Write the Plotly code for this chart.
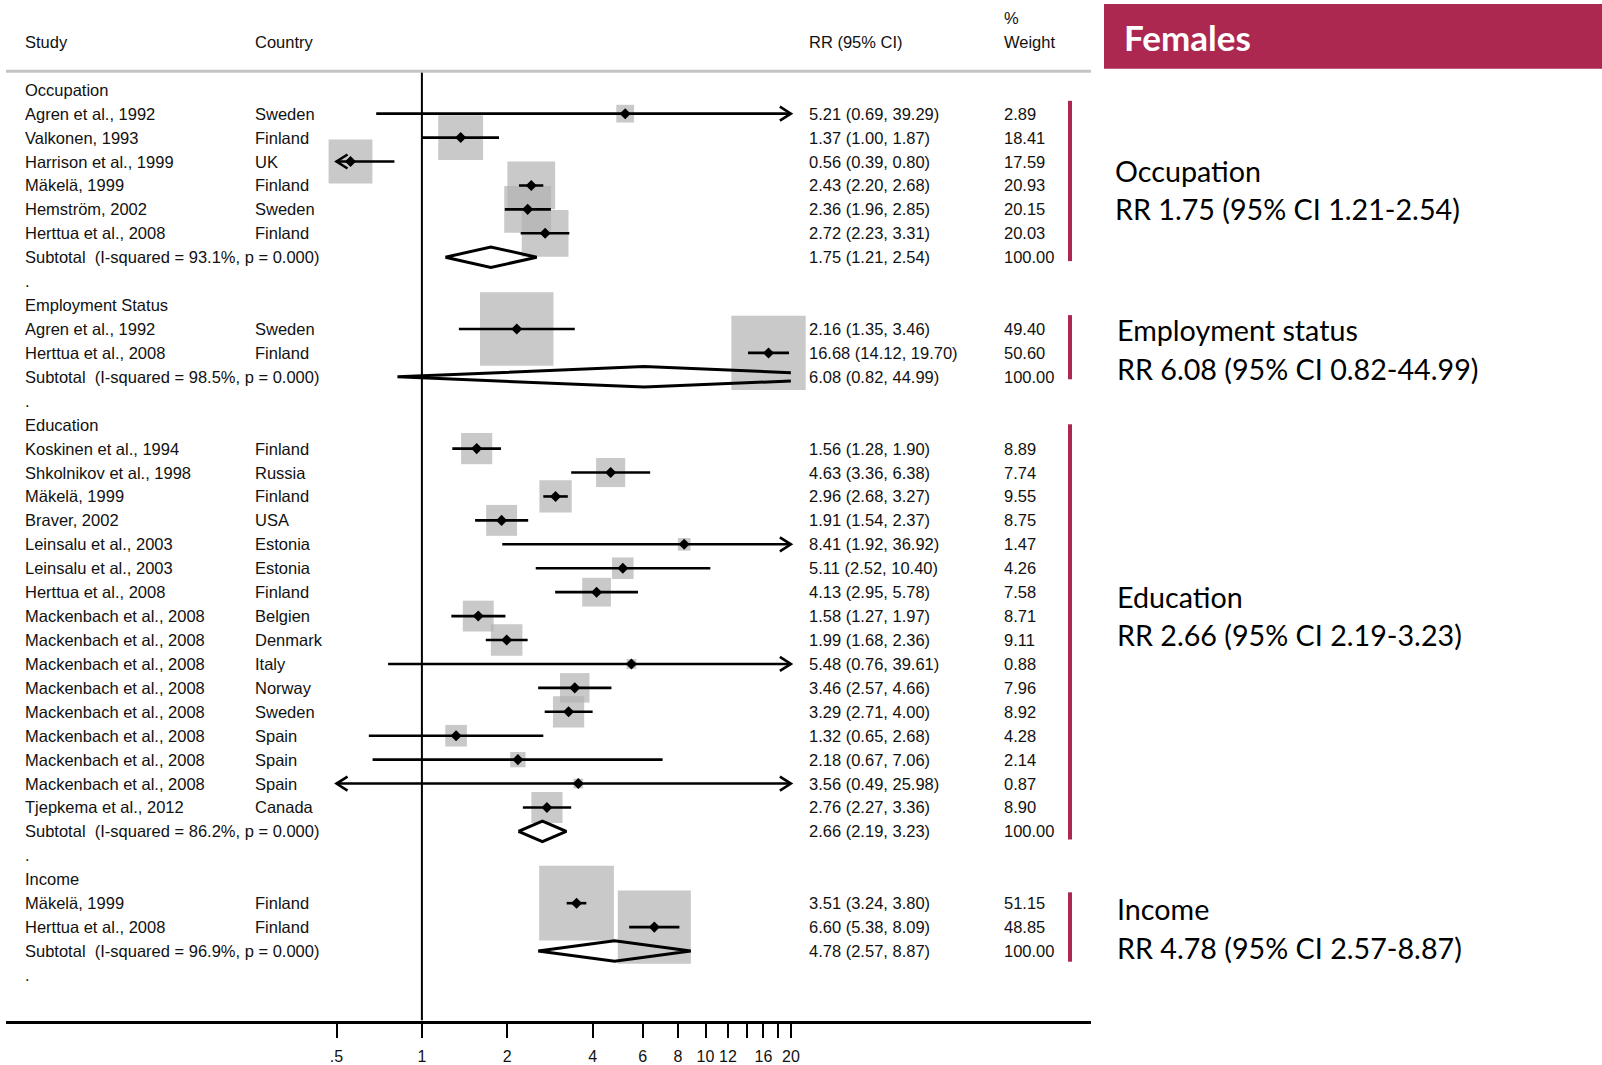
import math
import plotly.graph_objects as go

# ---------------- data ----------------
occ_study = ["Agren et al., 1992", "Valkonen, 1993", "Harrison et al., 1999", "Mäkelä, 1999",
             "Hemström, 2002", "Herttua et al., 2008"]
occ_country = ["Sweden", "Finland", "UK", "Finland", "Sweden", "Finland"]
occ_rr = [5.21, 1.37, 0.56, 2.43, 2.36, 2.72]
occ_lo = [0.69, 1.00, 0.39, 2.20, 1.96, 2.23]
occ_hi = [39.29, 1.87, 0.80, 2.68, 2.85, 3.31]
occ_w = [2.89, 18.41, 17.59, 20.93, 20.15, 20.03]

emp_study = ["Agren et al., 1992", "Herttua et al., 2008"]
emp_country = ["Sweden", "Finland"]
emp_rr = [2.16, 16.68]
emp_lo = [1.35, 14.12]
emp_hi = [3.46, 19.70]
emp_w = [49.40, 50.60]

edu_study = ["Koskinen et al., 1994", "Shkolnikov et al., 1998", "Mäkelä, 1999", "Braver, 2002",
             "Leinsalu et al., 2003", "Leinsalu et al., 2003", "Herttua et al., 2008",
             "Mackenbach et al., 2008", "Mackenbach et al., 2008", "Mackenbach et al., 2008",
             "Mackenbach et al., 2008", "Mackenbach et al., 2008", "Mackenbach et al., 2008",
             "Mackenbach et al., 2008", "Mackenbach et al., 2008", "Tjepkema et al., 2012"]
edu_country = ["Finland", "Russia", "Finland", "USA", "Estonia", "Estonia", "Finland", "Belgien",
               "Denmark", "Italy", "Norway", "Sweden", "Spain", "Spain", "Spain", "Canada"]
edu_rr = [1.56, 4.63, 2.96, 1.91, 8.41, 5.11, 4.13, 1.58, 1.99, 5.48, 3.46, 3.29, 1.32, 2.18, 3.56, 2.76]
edu_lo = [1.28, 3.36, 2.68, 1.54, 1.92, 2.52, 2.95, 1.27, 1.68, 0.76, 2.57, 2.71, 0.65, 0.67, 0.49, 2.27]
edu_hi = [1.90, 6.38, 3.27, 2.37, 36.92, 10.40, 5.78, 1.97, 2.36, 39.61, 4.66, 4.00, 2.68, 7.06, 25.98, 3.36]
edu_w = [8.89, 7.74, 9.55, 8.75, 1.47, 4.26, 7.58, 8.71, 9.11, 0.88, 7.96, 8.92, 4.28, 2.14, 0.87, 8.90]

inc_study = ["Mäkelä, 1999", "Herttua et al., 2008"]
inc_country = ["Finland", "Finland"]
inc_rr = [3.51, 6.60]
inc_lo = [3.24, 5.38]
inc_hi = [3.80, 8.09]
inc_w = [51.15, 48.85]

group_names = ["Occupation", "Employment Status", "Education", "Income"]
panel_names = ["Occupation", "Employment status", "Education", "Income"]
sub_rr = [1.75, 6.08, 2.66, 4.78]
sub_lo = [1.21, 0.82, 2.19, 2.57]
sub_hi = [2.54, 44.99, 3.23, 8.87]
sub_i2 = [93.1, 98.5, 86.2, 96.9]
sub_p = [0.000, 0.000, 0.000, 0.000]

tick_vals = [0.5, 1, 2, 4, 6, 8, 10, 12, 14, 16, 18, 20]
tick_text = [".5", "1", "2", "4", "6", "8", "10", "12", "", "16", "", "20"]
panel_title = "Females"

# ---------------- layout helpers ----------------
W, H = 1602, 1065
XMIN, XMAX = 0.5, 20.0          # clipping range for CIs
PX_DEC = 283.6                  # px per decade
X1_PX = 421.9                   # pixel of RR = 1
AX_L, AX_R = 6, 1091
PLOT_TOP, PLOT_BOT = 71.5, 1022.5
ROW0, ROWH = 89.9, 23.97

def px_to_row(p):
    return (p - ROW0) / ROWH

def pxx(p):
    return p / W

def pxy(p):
    return 1 - p / H

lx_left = (AX_L - X1_PX) / PX_DEC
lx_right = (AX_R - X1_PX) / PX_DEC
CRIMSON = "#AD2851"
BOX = "#b2b2b2"
TXT = "#111111"
FONT = "Liberation Sans, Arial, sans-serif"
FS = 16.5
RFONT = "Lato, Open Sans, sans-serif"

groups = [
    (occ_study, occ_country, occ_rr, occ_lo, occ_hi, occ_w),
    (emp_study, emp_country, emp_rr, emp_lo, emp_hi, emp_w),
    (edu_study, edu_country, edu_rr, edu_lo, edu_hi, edu_w),
    (inc_study, inc_country, inc_rr, inc_lo, inc_hi, inc_w),
]

annotations = []
def add_text(x_px, row, text, y_px=None):
    annotations.append(dict(
        x=pxx(x_px - 2), xref="paper",
        y=row if y_px is None else pxy(y_px), yref="y" if y_px is None else "paper",
        text=text, showarrow=False, xanchor="left", yanchor="middle",
        font=dict(family=FONT, size=FS, color=TXT)))

COL_STUDY, COL_COUNTRY, COL_RR, COL_W = 24.5, 255.4, 809.2, 1004.3

# headers
add_text(COL_STUDY, None, "Study", y_px=42)
add_text(COL_COUNTRY, None, "Country", y_px=42)
add_text(COL_RR, None, "RR (95% CI)", y_px=42)
add_text(COL_W, None, "%", y_px=18.4)
add_text(COL_W, None, "Weight", y_px=42)

box_x, box_y, box_s = [], [], []
ci_x, ci_y = [], []
arr_x, arr_y = [], []
pt_x, pt_y = [], []
dia_x, dia_y = [], []

ARR_D = 10 ** (11 / PX_DEC)
ARR_H = 7 / ROWH
DIA_H = 10.3 / ROWH

def arrow(xtip, row, direction):
    xb = xtip / ARR_D if direction > 0 else xtip * ARR_D
    arr_x.extend([xb, xtip, xb, None])
    arr_y.extend([row - ARR_H, row, row + ARR_H, None])

row = 0
for gi, (st, co, rr, lo, hi, w) in enumerate(groups):
    add_text(COL_STUDY, row, group_names[gi])
    row += 1
    for k in range(len(st)):
        add_text(COL_STUDY, row, st[k])
        add_text(COL_COUNTRY, row, co[k])
        add_text(COL_RR, row, "%.2f (%.2f, %.2f)" % (rr[k], lo[k], hi[k]))
        add_text(COL_W, row, "%.2f" % w[k])
        box_x.append(rr[k]); box_y.append(row); box_s.append(10.45 * math.sqrt(w[k]))
        l = max(lo[k], XMIN); h = min(hi[k], XMAX)
        ci_x.extend([l, h, None]); ci_y.extend([row, row, None])
        if lo[k] < XMIN:
            arrow(XMIN, row, -1)
        if hi[k] > XMAX:
            arrow(XMAX, row, +1)
        pt_x.append(rr[k]); pt_y.append(row)
        row += 1
    add_text(COL_STUDY, row, "Subtotal  (I-squared = %.1f%%, p = %.3f)" % (sub_i2[gi], sub_p[gi]))
    add_text(COL_RR, row, "%.2f (%.2f, %.2f)" % (sub_rr[gi], sub_lo[gi], sub_hi[gi]))
    add_text(COL_W, row, "100.00")
    e, l, h = sub_rr[gi], sub_lo[gi], sub_hi[gi]
    if h > XMAX:
        t = (math.log10(XMAX) - math.log10(e)) / (math.log10(h) - math.log10(e))
        off = DIA_H * (1 - t)
        dia_x.extend([XMAX, e, l, e, XMAX, None])
        dia_y.extend([row - off, row - DIA_H, row, row + DIA_H, row + off, None])
    else:
        dia_x.extend([l, e, h, e, l, None])
        dia_y.extend([row, row - DIA_H, row, row + DIA_H, row, None])
    row += 1
    add_text(COL_STUDY, row, ".")
    row += 1

y_top = px_to_row(PLOT_TOP)
y_bot = px_to_row(PLOT_BOT)

fig = go.Figure()
fig.add_trace(go.Scatter(x=[1, 1], y=[y_top, y_bot], mode="lines",
                         line=dict(color="black", width=2), hoverinfo="skip"))
fig.add_trace(go.Scatter(x=box_x, y=box_y, mode="markers",
                         marker=dict(symbol="square", size=box_s, color=BOX, line=dict(width=0)),
                         hoverinfo="skip", cliponaxis=False))
fig.add_trace(go.Scatter(x=ci_x, y=ci_y, mode="lines", line=dict(color="black", width=2.6),
                         hoverinfo="skip"))
fig.add_trace(go.Scatter(x=arr_x, y=arr_y, mode="lines", line=dict(color="black", width=2.6),
                         hoverinfo="skip"))
fig.add_trace(go.Scatter(x=pt_x, y=pt_y, mode="markers",
                         marker=dict(symbol="diamond", size=8.5, color="black", line=dict(width=0)),
                         hoverinfo="skip"))
fig.add_trace(go.Scatter(x=dia_x, y=dia_y, mode="lines", line=dict(color="black", width=3),
                         hoverinfo="skip"))

shapes = []
shapes.append(dict(type="line", xref="paper", yref="paper", x0=pxx(AX_L), x1=pxx(AX_R),
                   y0=pxy(PLOT_TOP), y1=pxy(PLOT_TOP), line=dict(color="#c4c4c4", width=3)))
shapes.append(dict(type="rect", xref="paper", yref="paper", x0=pxx(1104), x1=1.0,
                   y0=pxy(69), y1=pxy(4), fillcolor=CRIMSON, line=dict(width=0)))
bar_px = [(101, 261.6), (315.7, 380), (425, 841), (894, 963.5)]
for (a, b) in bar_px:
    shapes.append(dict(type="line", xref="paper", yref="paper", x0=pxx(1070), x1=pxx(1070),
                       y0=pxy(a), y1=pxy(b), line=dict(color=CRIMSON, width=4)))

annotations.append(dict(x=pxx(1122), xref="paper", y=pxy(37.5), yref="paper",
                        text="<b>%s</b>" % panel_title, showarrow=False, xanchor="left",
                        yanchor="middle", font=dict(family=RFONT, size=35, color="white")))

panel_px = [(1113, 171.6, 209.5), (1115, 331, 370), (1115, 597.7, 636.5), (1115, 911, 950)]
for gi, (xp, y1p, y2p) in enumerate(panel_px):
    for txt, yp in [(panel_names[gi], y1p),
                    ("RR %.2f (95%% CI %.2f-%.2f)" % (sub_rr[gi], sub_lo[gi], sub_hi[gi]), y2p)]:
        annotations.append(dict(x=pxx(xp), xref="paper", y=pxy(yp), yref="paper", text=txt,
                                showarrow=False, xanchor="left", yanchor="middle",
                                font=dict(family=RFONT, size=28.7, color="black")))

fig.update_layout(
    width=W, height=H, margin=dict(l=0, r=0, t=0, b=0),
    paper_bgcolor="white", plot_bgcolor="white", showlegend=False,
    shapes=shapes, annotations=annotations,
    xaxis=dict(type="log", range=[lx_left, lx_right], domain=[pxx(AX_L), pxx(AX_R)],
               showline=True, linecolor="black", linewidth=2.5, ticks="outside", ticklen=15,
               tickwidth=2, tickcolor="black", tickvals=tick_vals, ticktext=tick_text,
               tickfont=dict(family=FONT, size=16, color=TXT), showgrid=False, zeroline=False,
               ticklabelstandoff=4),
    yaxis=dict(range=[y_bot, y_top], domain=[pxy(PLOT_BOT), pxy(PLOT_TOP)], visible=False,
               showgrid=False, zeroline=False),
)

fig.write_html("out.html", config={"displayModeBar": False},
               post_script="document.body.style.margin='0';document.body.style.padding='0';"
                           "document.body.style.overflow='hidden';")
